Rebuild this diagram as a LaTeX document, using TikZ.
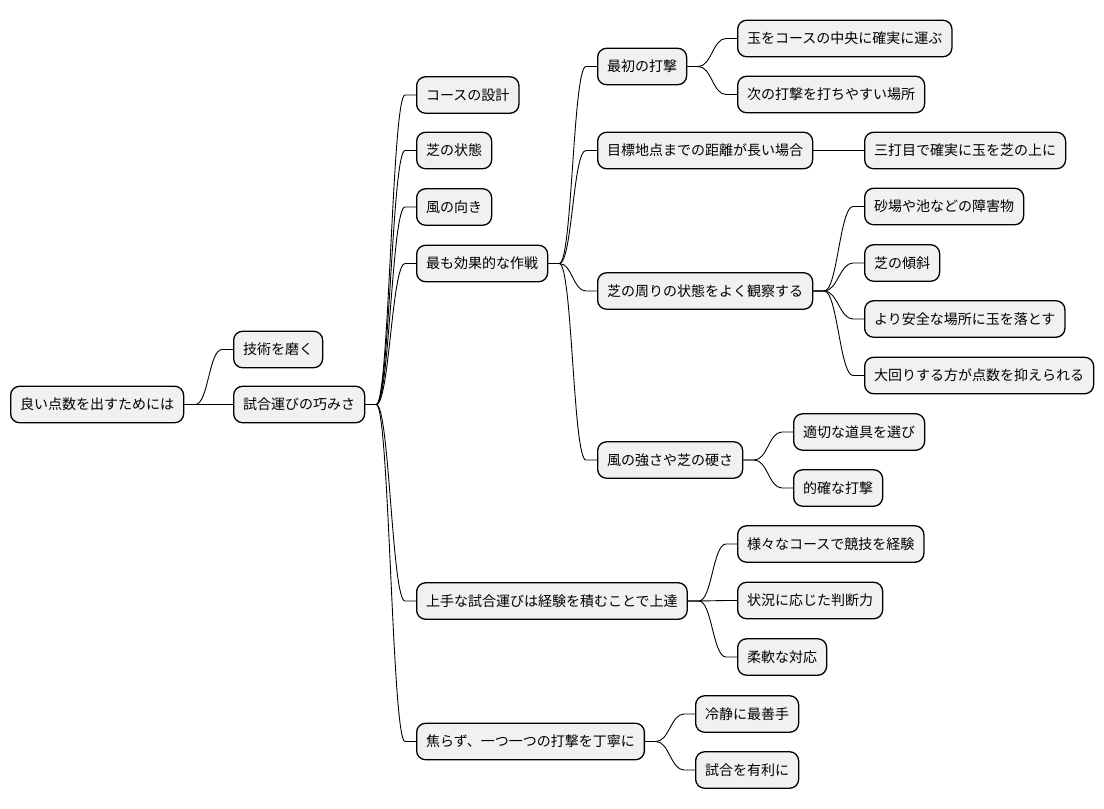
\documentclass[tikz,border=0pt]{standalone}
\usepackage{fontspec}
\setmainfont{Noto Sans CJK JP}
\usetikzlibrary{calc}
\definecolor{boxfill}{HTML}{F1F1F1}
\tikzset{
  mm/.style={draw=black, line width=1.3pt, fill=boxfill, rounded corners=9pt,
    anchor=west, minimum height=36.5pt, inner xsep=9.5pt, inner ysep=0pt,
    font=\fontsize{14}{16}\selectfont},
  conn/.style={line width=0.9pt, black}
}
\newcommand{\mmlink}[2]{%
  \draw[conn] (#1.east) -- ++(11,0) .. controls +(13,0) and ($(#2.west)+(-24,0)$) .. ($(#2.west)+(-11,0)$) -- (#2.west);}
\begin{document}
\begin{tikzpicture}[x=1pt,y=-1pt]
\useasboundingbox (0,0) rectangle (1104,809);
% level 0
\node[mm] (r) at (10,404.5) {良い点数を出すためには};
% level 1
\node[mm] (a) at (233,349.5) {技術を磨く};
\node[mm] (b) at (233,404.5) {試合運びの巧みさ};
% level 2
\node[mm] (b1) at (416,95) {コースの設計};
\node[mm] (b2) at (416,150.5) {芝の状態};
\node[mm] (b3) at (416,207) {風の向き};
\node[mm] (b4) at (416,263.5) {最も効果的な作戦};
\node[mm] (b5) at (416,601) {上手な試合運びは経験を積むことで上達};
\node[mm] (b6) at (416,741.5) {焦らず、一つ一つの打撃を丁寧に};
% level 3 under b4
\node[mm] (c1) at (597,66.5) {最初の打撃};
\node[mm] (c2) at (597,150.5) {目標地点までの距離が長い場合};
\node[mm] (c3) at (597,291) {芝の周りの状態をよく観察する};
\node[mm] (c4) at (597,460) {風の強さや芝の硬さ};
% level 4
\node[mm] (d1) at (737,38.5) {玉をコースの中央に確実に運ぶ};
\node[mm] (d2) at (737,94.5) {次の打撃を打ちやすい場所};
\node[mm] (e1) at (864,150.5) {三打目で確実に玉を芝の上に};
\node[mm] (f1) at (864,206.5) {砂場や池などの障害物};
\node[mm] (f2) at (864,263) {芝の傾斜};
\node[mm] (f3) at (864,319) {より安全な場所に玉を落とす};
\node[mm] (f4) at (864,375.5) {大回りする方が点数を抑えられる};
\node[mm] (g1) at (793,432) {適切な道具を選び};
\node[mm] (g2) at (793,488) {的確な打撃};
% level 3 under b5
\node[mm] (h1) at (737,544) {様々なコースで競技を経験};
\node[mm] (h2) at (737,600.5) {状況に応じた判断力};
\node[mm] (h3) at (737,657) {柔軟な対応};
% level 3 under b6
\node[mm] (i1) at (695,714) {冷静に最善手};
\node[mm] (i2) at (695,770) {試合を有利に};
% connectors
\mmlink{r}{a}
\mmlink{r}{b}
\mmlink{b}{b1}
\mmlink{b}{b2}
\mmlink{b}{b3}
\mmlink{b}{b4}
\mmlink{b}{b5}
\mmlink{b}{b6}
\mmlink{b4}{c1}
\mmlink{b4}{c2}
\mmlink{b4}{c3}
\mmlink{b4}{c4}
\mmlink{c1}{d1}
\mmlink{c1}{d2}
\mmlink{c2}{e1}
\mmlink{c3}{f1}
\mmlink{c3}{f2}
\mmlink{c3}{f3}
\mmlink{c3}{f4}
\mmlink{c4}{g1}
\mmlink{c4}{g2}
\mmlink{b5}{h1}
\mmlink{b5}{h2}
\mmlink{b5}{h3}
\mmlink{b6}{i1}
\mmlink{b6}{i2}
\end{tikzpicture}
\end{document}
